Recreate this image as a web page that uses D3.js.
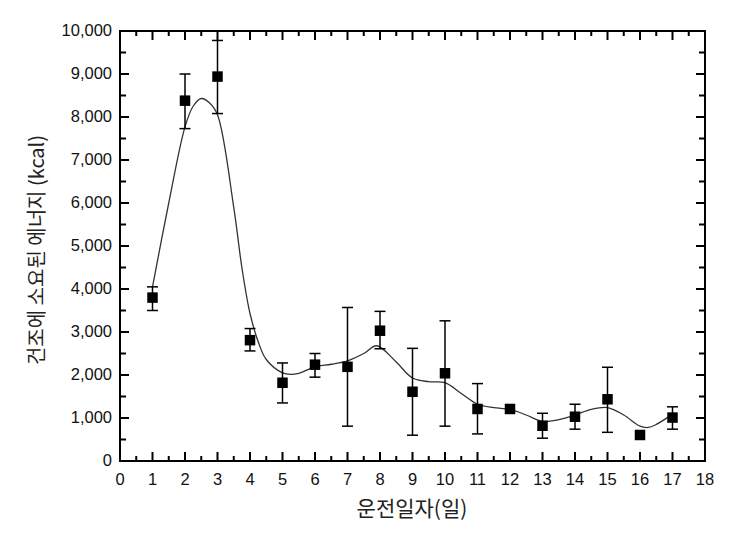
<!DOCTYPE html>
<html><head><meta charset="utf-8">
<script src="https://cdn.jsdelivr.net/npm/d3@7"></script>
<style>
html,body{margin:0;padding:0;background:#fff;}
svg text{font-family:"Liberation Sans",Arial,sans-serif;}
</style></head>
<body>
<svg id="chart" width="744" height="540"></svg>
<script>
// Measured points
const days = [1,2,3,4,5,6,7,8,9,10,11,12,13,14,15,16,17];
const energy = [3800,8380,8940,2810,1820,2240,2190,3030,1610,2040,1210,1210,820,1030,1435,605,1010];
const errUpper = [4050,9000,9780,3080,2280,2500,3570,3480,2620,3260,1800,1210,1110,1320,2180,605,1260];
const errLower = [3500,7730,8080,2560,1350,1950,810,2610,600,810,630,1210,530,740,667,605,740];
// Smooth fitted curve
const fitX = [1,1.5,2,2.25,2.5,2.75,3,3.5,3.75,4,4.25,4.5,5,5.25,5.5,6,6.5,7,7.5,7.9,8.5,9,9.5,10,10.5,11,11.5,12,12.5,13,13.5,14,14.5,15,15.5,16,16.25,16.5,17];
const fitY = [4050,6000,7770,8250,8430,8330,8050,5900,4500,3430,2780,2360,2050,2015,2040,2190,2250,2330,2500,2680,2300,1930,1845,1820,1570,1320,1240,1200,1070,920,960,1070,1200,1240,1070,810,780,850,1090];
const xTicks = d3.range(0,19,1);
const yTicks = d3.range(0,10001,1000);
const xTitle = "운전일자(일)";
const yTitle = "건조에 소요된 에너지 (kcal)";

const svg = d3.select("#chart");
const L=120,R=705,T=31,B=461;
const x = d3.scaleLinear().domain([0,18]).range([L,R]);
const y = d3.scaleLinear().domain([0,10000]).range([B,T]);
const fmt = d3.format(",");

// ticks (inward on all four sides)
const g = svg.append("g");
const xMinor = d3.range(0.5,18,1);
const yMinor = d3.range(500,10000,1000);
const majLen=9, minLen=5;
xTicks.forEach(t=>{
  g.append("line").attr("x1",x(t)).attr("x2",x(t)).attr("y1",B).attr("y2",B-majLen);
  g.append("line").attr("x1",x(t)).attr("x2",x(t)).attr("y1",T).attr("y2",T+majLen);
});
xMinor.forEach(t=>{
  g.append("line").attr("x1",x(t)).attr("x2",x(t)).attr("y1",B).attr("y2",B-minLen);
  g.append("line").attr("x1",x(t)).attr("x2",x(t)).attr("y1",T).attr("y2",T+minLen);
});
yTicks.forEach(t=>{
  g.append("line").attr("y1",y(t)).attr("y2",y(t)).attr("x1",L).attr("x2",L+majLen);
  g.append("line").attr("y1",y(t)).attr("y2",y(t)).attr("x1",R).attr("x2",R-majLen);
});
yMinor.forEach(t=>{
  g.append("line").attr("y1",y(t)).attr("y2",y(t)).attr("x1",L).attr("x2",L+minLen+1);
  g.append("line").attr("y1",y(t)).attr("y2",y(t)).attr("x1",R).attr("x2",R-minLen-1);
});
g.selectAll("line").attr("stroke","#000").attr("stroke-width",2);

// frame
svg.append("rect").attr("x",L).attr("y",T).attr("width",R-L).attr("height",B-T)
  .attr("fill","none").attr("stroke","#000").attr("stroke-width",2);

// tick labels
svg.append("g").selectAll("text").data(xTicks).join("text")
  .attr("x",d=>x(d)).attr("y",485).attr("text-anchor","middle")
  .attr("font-size",16.5).attr("fill","#111").text(d=>d);
svg.append("g").selectAll("text").data(yTicks).join("text")
  .attr("x",112).attr("y",d=>y(d)+5).attr("text-anchor","end")
  .attr("font-size",16.5).attr("fill","#111").text(d=>fmt(d));

// titles
svg.append("text").attr("x",412).attr("y",516).attr("text-anchor","middle")
  .attr("font-size",21).attr("fill","#222")
  .style("font-family","'Noto Sans CJK KR',sans-serif").text(xTitle);
svg.append("text").attr("transform","translate(44,250) rotate(-90)").attr("text-anchor","middle")
  .attr("font-size",20).attr("fill","#222")
  .style("font-family","'Noto Sans CJK KR',sans-serif").text(yTitle);

// fitted curve
const line = d3.line().x((d,i)=>x(fitX[i])).y(d=>y(d)).curve(d3.curveCatmullRom.alpha(0.5));
svg.append("path").attr("d",line(fitY)).attr("fill","none").attr("stroke","#333").attr("stroke-width",1.3);

// error bars
const eb = svg.append("g").attr("stroke","#000").attr("stroke-width",1.5);
days.forEach((d,i)=>{
  if (errUpper[i]===errLower[i]) return;
  eb.append("line").attr("x1",x(d)).attr("x2",x(d)).attr("y1",y(errUpper[i])).attr("y2",y(errLower[i]));
  eb.append("line").attr("x1",x(d)-5.5).attr("x2",x(d)+5.5).attr("y1",y(errUpper[i])).attr("y2",y(errUpper[i]));
  eb.append("line").attr("x1",x(d)-5.5).attr("x2",x(d)+5.5).attr("y1",y(errLower[i])).attr("y2",y(errLower[i]));
});

// markers
const s=10.5;
svg.append("g").selectAll("rect").data(days).join("rect")
  .attr("x",d=>x(d)-s/2).attr("y",(d,i)=>y(energy[i])-s/2)
  .attr("width",s).attr("height",s).attr("fill","#000");
</script>
</body></html>
